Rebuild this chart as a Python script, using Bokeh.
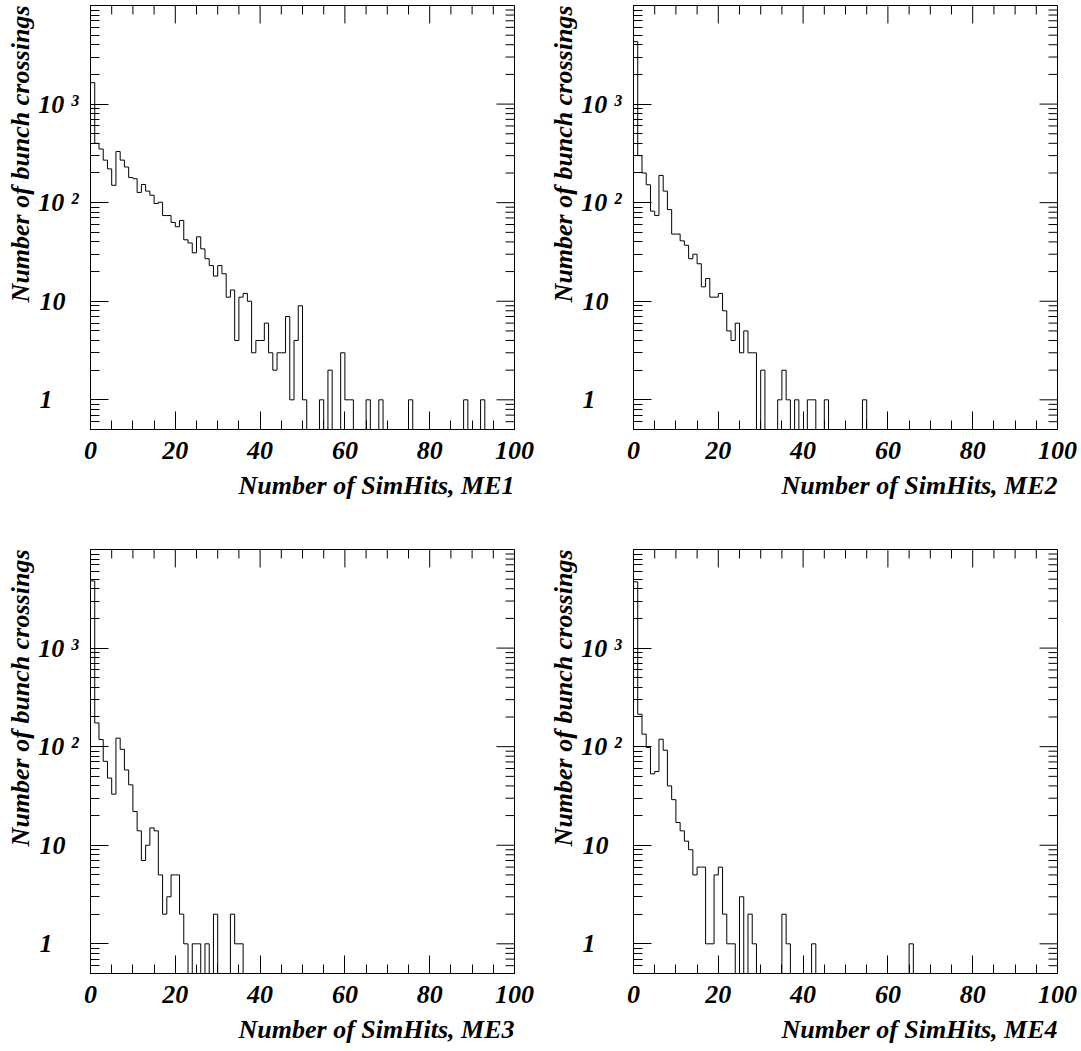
import numpy as np
from bokeh.plotting import figure
from bokeh.layouts import gridplot
from bokeh.models import Range1d, FixedTicker, Title
from bokeh.embed import file_html
from bokeh.resources import INLINE

N_BINS = 100
X_MIN, X_MAX = 0, 100
Y_MIN, Y_MAX = 0.5, 10000

# Counts per unit-width bin (bins after the last listed one are empty)
me1 = [1650, 400, 350, 270, 220, 150, 330, 270, 230, 180,
       175, 127, 153, 131, 119, 98, 101, 74, 74, 63,
       57, 66, 42, 39, 31, 45, 34, 27, 23, 18,
       23, 19, 11, 13, 4, 11, 12, 10, 3, 4,
       4, 6, 3, 2, 3, 3, 7, 1, 4, 9,
       1, 0, 0, 0, 1, 0, 2, 0, 0, 3,
       1, 1, 0, 0, 0, 1, 0, 0, 1, 0,
       0, 0, 0, 0, 0, 1, 0, 0, 0, 0,
       0, 0, 0, 0, 0, 0, 0, 0, 1, 0,
       0, 0, 1]
me2 = [4300, 300, 200, 152, 82, 74, 189, 131, 85, 48,
       48, 41, 37, 27, 30, 24, 14, 17, 11, 11,
       12, 8, 5, 4, 6, 3, 5, 3, 3, 0,
       2, 0, 0, 0, 1, 2, 1, 0, 1, 0,
       0, 1, 1, 0, 0, 1, 0, 0, 0, 0,
       0, 0, 0, 0, 1]
me3 = [4800, 174, 118, 71, 48, 33, 122, 94, 58, 41,
       22, 14, 7, 10, 15, 14, 5, 2, 3, 5,
       5, 2, 1, 0, 1, 1, 0, 1, 0, 2,
       0, 0, 0, 2, 1, 1]
me4 = [4700, 213, 134, 98, 53, 56, 119, 92, 40, 29,
       17, 14, 11, 9, 5, 6, 6, 1, 1, 5,
       6, 2, 1, 1, 0, 3, 0, 2, 1, 0,
       0, 0, 0, 0, 0, 2, 1, 0, 0, 0,
       0, 0, 1, 0, 0, 0, 0, 0, 0, 0,
       0, 0, 0, 0, 0, 0, 0, 0, 0, 0,
       0, 0, 0, 0, 0, 1]

x_titles = ["Number of SimHits, ME1", "Number of SimHits, ME2",
            "Number of SimHits, ME3", "Number of SimHits, ME4"]
y_title = "Number of bunch crossings"
x_major = [0, 20, 40, 60, 80, 100]
x_minor = list(range(0, 101, 5))
y_major = [1, 10, 100, 1000]
y_major_labels = {1: "1\u00a0\u00a0\u00a0\u00a0", 10: "10\u00a0\u00a0",
                  100: "10 \u00b2", 1000: "10 \u00b3"}

FONT = "Liberation Serif"
FS = "26px"
MAJOR_LEN = 18
MINOR_LEN = 9


def y_minor_ticks():
    t = []
    for dec in [0.1, 1, 10, 100, 1000]:
        for k in range(2, 10):
            v = dec * k
            if Y_MIN <= v <= Y_MAX:
                t.append(v)
    return t


def step_path(counts):
    c = np.zeros(N_BINS)
    c[:len(counts)] = counts
    edges = np.arange(X_MIN, X_MAX + 1)
    floor = Y_MIN * 0.5
    vals = np.where(c > 0, c, floor)
    xs = [edges[0]]
    ys = [floor]
    for i in range(N_BINS):
        xs += [edges[i], edges[i + 1]]
        ys += [vals[i], vals[i]]
    xs.append(edges[-1])
    ys.append(floor)
    return xs, ys


def style_axis(ax):
    ax.axis_line_color = "black"
    ax.axis_line_width = 1
    ax.major_tick_in = MAJOR_LEN
    ax.major_tick_out = 0
    ax.minor_tick_in = MINOR_LEN
    ax.minor_tick_out = 0
    ax.major_tick_line_color = "black"
    ax.minor_tick_line_color = "black"
    ax.major_label_text_font = FONT
    ax.major_label_text_font_style = "bold italic"
    ax.major_label_text_color = "black"
    ax.major_label_text_font_size = FS


def make(counts, xtitle, width, height, border_right, border_bottom):
    p = figure(width=width, height=height,
               x_range=Range1d(X_MIN, X_MAX), y_range=Range1d(Y_MIN, Y_MAX),
               y_axis_type="log", output_backend="svg", toolbar_location=None,
               min_border_left=90, min_border_right=border_right,
               min_border_top=5, min_border_bottom=border_bottom)
    p.xgrid.visible = False
    p.ygrid.visible = False
    p.outline_line_color = "black"
    p.outline_line_width = 1
    p.background_fill_color = "white"
    p.border_fill_color = "white"

    xa = p.xaxis[0]
    xa.ticker = FixedTicker(ticks=x_major, minor_ticks=x_minor)
    style_axis(xa)
    xa.major_label_standoff = 12

    ya = p.yaxis[0]
    ya.ticker = FixedTicker(ticks=y_major, minor_ticks=y_minor_ticks())
    style_axis(ya)
    ya.major_label_overrides = y_major_labels
    ya.major_label_standoff = 12

    # mirrored ticks on the top and right frame edges (clipped to the frame)
    xminor_only = [t for t in x_minor if t not in x_major]
    yminor = y_minor_ticks()
    p.scatter(x=x_major, y=[Y_MAX] * len(x_major), marker="dash", angle=np.pi / 2,
              size=2 * MAJOR_LEN, line_color="black", line_width=1)
    p.scatter(x=xminor_only, y=[Y_MAX] * len(xminor_only), marker="dash",
              angle=np.pi / 2, size=2 * MINOR_LEN, line_color="black", line_width=1)
    p.scatter(x=[X_MAX] * len(y_major), y=y_major, marker="dash",
              size=2 * MAJOR_LEN, line_color="black", line_width=1)
    p.scatter(x=[X_MAX] * len(yminor), y=yminor, marker="dash",
              size=2 * MINOR_LEN, line_color="black", line_width=1)

    xs, ys = step_path(counts)
    p.line(xs, ys, line_color="black", line_width=1)

    p.add_layout(Title(text=xtitle, align="right", text_font=FONT,
                       text_font_style="bold italic", text_font_size=FS,
                       text_color="black", standoff=14), "below")
    p.add_layout(Title(text=y_title, align="right", text_font=FONT,
                       text_font_style="bold italic", text_font_size=FS,
                       text_color="black", standoff=2), "left")
    return p


p1 = make(me1, x_titles[0], 543, 544, 29, 115)
p2 = make(me2, x_titles[1], 538, 544, 24, 115)
p3 = make(me3, x_titles[2], 543, 507, 29, 78)
p4 = make(me4, x_titles[3], 538, 507, 24, 78)

grid = gridplot([[p1, p2], [p3, p4]], toolbar_location=None)

open("out.html", "w").write(file_html(grid, INLINE))
